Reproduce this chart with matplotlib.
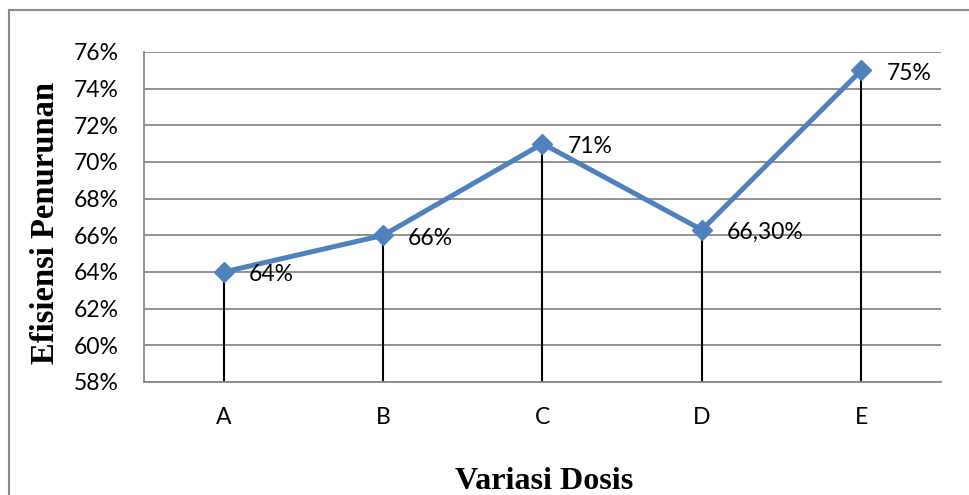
import matplotlib.pyplot as plt
from matplotlib.patches import Rectangle
from matplotlib.ticker import FuncFormatter

categories = ["A", "B", "C", "D", "E"]
efficiency = [64.0, 66.0, 71.0, 66.3, 75.0]
point_labels = ["64%", "66%", "71%", "66,30%", "75%"]
y_ticks = [58, 60, 62, 64, 66, 68, 70, 72, 74, 76]

BLUE = "#4F81BD"
GRID = "#888888"
LABEL_FONT = ["Lato", "DejaVu Sans"]
TITLE_FONT = ["Liberation Serif", "DejaVu Serif"]

fig = plt.figure(figsize=(9.7, 4.95), dpi=100)
ax = fig.add_axes([144 / 970, 1 - 382 / 495, (941 - 144) / 970, (382 - 52) / 495])

x = list(range(len(categories)))

# drop lines from each point down to the axis
ax.vlines(x, y_ticks[0], efficiency, color="black", lw=1.5, zorder=2)

ax.plot(x, efficiency, color=BLUE, lw=3.6, marker="D", markersize=10,
        markerfacecolor=BLUE, markeredgecolor=BLUE, zorder=3,
        solid_capstyle="round")

for xi, yi, lbl in zip(x, efficiency, point_labels):
    ax.annotate(lbl, (xi, yi), xytext=(18, -2), textcoords="offset points",
                ha="left", va="center", fontsize=16.5, family=LABEL_FONT)

ax.set_xlim(-0.5, len(categories) - 0.5)
ax.set_ylim(y_ticks[0], y_ticks[-1])
ax.set_yticks(y_ticks)
ax.yaxis.set_major_formatter(FuncFormatter(lambda v, _: f"{v:.0f}%"))
ax.set_xticks(x)
ax.set_xticklabels(categories)
ax.grid(axis="y", color=GRID, lw=1.3)
ax.set_axisbelow(True)

for side in ("top", "right"):
    ax.spines[side].set_visible(False)
for side in ("left", "bottom"):
    ax.spines[side].set_color(GRID)
    ax.spines[side].set_linewidth(1.3)

ax.tick_params(axis="both", length=0, labelsize=16.5)
ax.tick_params(axis="y", pad=18)
ax.tick_params(axis="x", pad=18)
for t in ax.get_xticklabels() + ax.get_yticklabels():
    t.set_family(LABEL_FONT)

fig.text(46 / 970, 1 - 223 / 495, "Efisiensi Penurunan", rotation=90,
         ha="center", va="center", fontsize=23.5, fontweight="bold",
         family=TITLE_FONT)
fig.text(544 / 970, 1 - 489 / 495, "Variasi Dosis", ha="center",
         va="baseline", fontsize=23, fontweight="bold", family=TITLE_FONT)

# outer chart frame
fig.patches.append(Rectangle((9 / 970, -0.1), 1.2, 1.1 - 10 / 495,
                             transform=fig.transFigure, fill=False,
                             edgecolor=GRID, lw=1.5))

fig.savefig("out.png", dpi=100)
